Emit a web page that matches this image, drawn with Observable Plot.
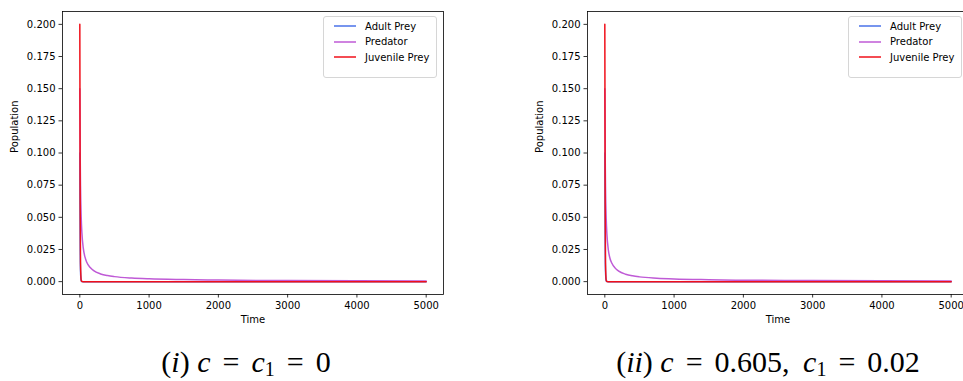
<!DOCTYPE html>
<html>
<head>
<meta charset="utf-8">
<script src="https://cdn.jsdelivr.net/npm/d3@7"></script>
<script src="https://cdn.jsdelivr.net/npm/@observablehq/plot@0.6"></script>
<style>
  html, body { margin: 0; padding: 0; background: #fff; }
  #page { position: relative; width: 963px; height: 381px; overflow: hidden; background: #fff; }
  .panel { position: absolute; top: 0; width: 450px; height: 340px; }
  .panel svg { max-width: none !important; }
  .legend {
    position: absolute; width: 114px; height: 62px; box-sizing: border-box;
    border: 1px solid #d6d6d6; border-radius: 3px; background: rgba(255,255,255,0.8);
    font-family: "DejaVu Sans", sans-serif; font-size: 10px; color: #000;
  }
  .legend .row { position: absolute; left: 10px; height: 14px; display: flex; align-items: center; white-space: nowrap; }
  .legend svg { margin-right: 9px; display: block; }
  .caption {
    position: absolute; top: 346px; width: 460px; text-align: center;
    font-size: 30px; color: #000; white-space: nowrap; line-height: 31px;
  }
  .caption i { font-style: italic; }
  .caption .rel { margin: 0 0.15em; }
  .caption .gap { margin-left: 0.2em; }
  .caption sub { font-size: 20px; vertical-align: -4px; line-height: 0; }
</style>
</head>
<body>
<div id="page"></div>
<script>
// Simulated trajectories sampled at these times
const timeSteps = [0, 5, 10, 20, 30, 50, 75, 100, 150, 200, 300, 400, 500, 750, 1000, 1500, 2000, 3000, 4000, 5000];

// Case (i): c = c1 = 0
const adultPrey1    = [0.10, 0.03, 0.008, 0.0006, 0.00005, 0, 0, 0, 0, 0, 0, 0, 0, 0, 0, 0, 0, 0, 0, 0];
const predator1     = [0.15, 0.10, 0.075, 0.05, 0.038, 0.026, 0.019, 0.015, 0.011, 0.0085, 0.006, 0.0047, 0.0039, 0.0028, 0.0022, 0.0016, 0.0012, 0.0008, 0.0006, 0.0005];
const juvenilePrey1 = [0.20, 0.06, 0.015, 0.001, 0.0001, 0, 0, 0, 0, 0, 0, 0, 0, 0, 0, 0, 0, 0, 0, 0];

// Case (ii): c = 0.605, c1 = 0.02
const adultPrey2    = [0.10, 0.03, 0.008, 0.0006, 0.00005, 0, 0, 0, 0, 0, 0, 0, 0, 0, 0, 0, 0, 0, 0, 0];
const predator2     = [0.15, 0.10, 0.074, 0.049, 0.037, 0.025, 0.018, 0.0145, 0.0105, 0.0082, 0.0058, 0.0045, 0.0037, 0.0027, 0.0021, 0.0015, 0.0011, 0.0008, 0.0006, 0.0005];
const juvenilePrey2 = [0.20, 0.06, 0.015, 0.001, 0.0001, 0, 0, 0, 0, 0, 0, 0, 0, 0, 0, 0, 0, 0, 0, 0];

const seriesNames  = ["Adult Prey", "Predator", "Juvenile Prey"];
const seriesColors = ["#4a72e8", "#bf5ad6", "#f0101a"];

const xTicks = [0, 1000, 2000, 3000, 4000, 5000];
const yTicks = [0, 0.025, 0.05, 0.075, 0.1, 0.125, 0.15, 0.175, 0.2];

const captions = [
  '(<i>i</i>) <i>c</i> <span class="rel">=</span> <i>c</i><sub>1</sub> <span class="rel">=</span> 0',
  '(<i>ii</i>) <i>c</i> <span class="rel">=</span> 0.605,&nbsp;<span class="gap"></span><i>c</i><sub>1</sub> <span class="rel">=</span> 0.02'
];

// Pick the first Times-like serif face that is actually installed
function pickSerif() {
  const ctx = document.createElement("canvas").getContext("2d");
  const sample = "(ii) c = 0.605, c1 = 0.02 mmmWWiil";
  const widthOf = f => { ctx.font = "30px " + f; return ctx.measureText(sample).width; };
  const candidates = ["Liberation Serif", "Tinos", "Nimbus Roman", "Times New Roman", "DejaVu Serif", "Noto Serif"];
  for (const name of candidates) {
    const w = widthOf(`"${name}", monospace`);
    if (w !== widthOf("monospace")) return `"${name}", serif`;
  }
  return "serif";
}

function toRows(values, name) {
  return timeSteps.map((t, i) => ({time: t, value: values[i], series: name}));
}

function panel(adult, predator, juvenile) {
  const groups = [toRows(adult, seriesNames[0]), toRows(predator, seriesNames[1]), toRows(juvenile, seriesNames[2])];
  return Plot.plot({
    width: 450,
    height: 340,
    marginLeft: 62,
    marginRight: 7,
    marginTop: 11,
    marginBottom: 46,
    style: {fontFamily: "DejaVu Sans, sans-serif", fontSize: "10px", color: "#000", background: "transparent", overflow: "visible"},
    x: {domain: [-250, 5250]},
    y: {domain: [-0.01, 0.21]},
    marks: [
      ...groups.map((rows, k) => Plot.line(rows, {x: "time", y: "value", stroke: seriesColors[k], strokeWidth: 1.5, curve: "monotone-x"})),
      Plot.frame({stroke: "#000", strokeWidth: 0.8}),
      Plot.axisX({ticks: xTicks, tickFormat: "d", tickSize: 3.5, tickPadding: 3.5, label: null, strokeWidth: 0.8}),
      Plot.axisY({ticks: yTicks, tickFormat: ".3f", tickSize: 3.5, tickPadding: 3.5, label: null, strokeWidth: 0.8}),
      Plot.text(["Time"], {frameAnchor: "bottom", dy: 28, fontSize: 10}),
      Plot.text(["Population"], {frameAnchor: "left", dx: -48, rotate: -90, fontSize: 10})
    ]
  });
}

function legend(left, top) {
  const box = document.createElement("div");
  box.className = "legend";
  box.style.left = left + "px";
  box.style.top = top + "px";
  seriesNames.forEach((name, k) => {
    const row = document.createElement("div");
    row.className = "row";
    row.style.top = (2 + k * 15.5) + "px";
    const sw = d3.create("svg").attr("width", 22).attr("height", 6);
    sw.append("line").attr("x1", 0).attr("x2", 22).attr("y1", 3).attr("y2", 3)
      .attr("stroke", seriesColors[k]).attr("stroke-width", 1.5);
    const label = document.createElement("span");
    label.textContent = name;
    row.appendChild(sw.node());
    row.appendChild(label);
    box.appendChild(row);
  });
  return box;
}

const page = document.getElementById("page");
const serifFamily = pickSerif();
const panels = [
  {left: 0, data: [adultPrey1, predator1, juvenilePrey1], caption: captions[0], capCenter: 246},
  {left: 525, data: [adultPrey2, predator2, juvenilePrey2], caption: captions[1], capCenter: 768}
];

panels.forEach(p => {
  const wrap = document.createElement("div");
  wrap.className = "panel";
  wrap.style.left = p.left + "px";
  wrap.appendChild(panel(...p.data));
  page.appendChild(wrap);
  page.appendChild(legend(p.left + 323, 16));
  const cap = document.createElement("div");
  cap.className = "caption";
  cap.style.fontFamily = serifFamily;
  cap.innerHTML = p.caption;
  cap.style.left = (p.capCenter - 230) + "px";
  page.appendChild(cap);
});
</script>
</body>
</html>
